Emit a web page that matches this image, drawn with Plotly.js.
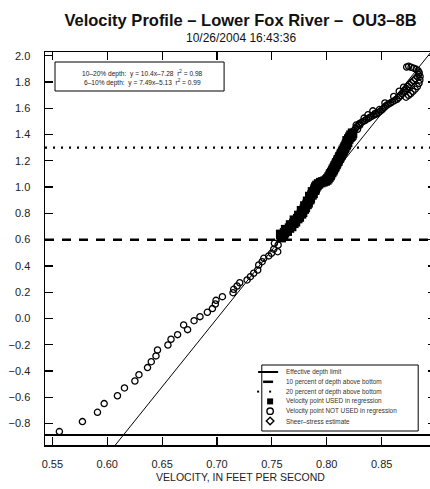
<!DOCTYPE html>
<html><head><meta charset="utf-8">
<script src="https://cdn.plot.ly/plotly-3.0.1.min.js"></script>
<style>html,body{margin:0;padding:0;overflow:hidden;background:#fff}#chart{width:440px;height:489px}</style>
</head><body><div id="chart"></div>
<script>
// ---- data ----
const usedX = [0.7585,0.7605,0.7580,0.7615,0.7640,0.7625,0.7660,0.7680,0.7670,0.7700,0.7715,0.7705,0.7735,0.7750,0.7745,0.7770,0.7780,0.7770,0.7795,0.7805,0.7800,0.7820,0.7830,0.7825,0.7845,0.7850,0.7845,0.7865,0.7875,0.7870,0.7890,0.7895,0.7900,0.7910,0.7925,0.7945,0.7965,0.7985,0.8000,0.8010,0.8020,0.8030,0.8035,0.8045,0.8055,0.8060,0.8070,0.8075,0.8085,0.8090,0.8100,0.8105,0.8115,0.8120,0.8130,0.8135,0.8145,0.8150,0.8160,0.8165,0.8175,0.8180,0.8190,0.8185,0.8200,0.8210,0.8220,0.8235];
const usedY = [0.615,0.628,0.640,0.652,0.664,0.676,0.688,0.700,0.712,0.724,0.736,0.748,0.760,0.772,0.784,0.796,0.808,0.820,0.832,0.844,0.856,0.868,0.880,0.892,0.904,0.916,0.928,0.940,0.952,0.964,0.976,0.988,1.000,1.012,1.024,1.034,1.040,1.046,1.054,1.064,1.076,1.088,1.100,1.112,1.124,1.136,1.148,1.160,1.172,1.184,1.196,1.208,1.220,1.232,1.244,1.256,1.268,1.280,1.292,1.304,1.316,1.328,1.340,1.352,1.366,1.380,1.395,1.410];

const notUsedX = [0.5564,0.5774,0.5911,0.5972,0.6093,0.6157,0.6252,0.6289,0.6367,0.6401,0.6444,0.6458,0.6553,0.6581,0.6641,0.6696,0.6732,0.6791,0.6845,0.6912,0.6958,0.6985,0.6991,0.7049,0.7146,0.7152,0.7183,0.7207,0.7274,0.7304,0.7334,0.7371,0.7380,0.7411,0.7426,0.7471,0.7496,0.7517,0.7553,0.7557,0.7523,
  0.8195,0.8210,0.8205,0.8220,0.8235,0.8230,0.8250,0.8262,0.8275,0.8268,0.8295,0.8312,0.8328,0.8347,0.8362,0.8380,0.8396,0.8412,0.8430,0.8452,0.8470,0.8488,0.8505,0.8520,0.8535,0.8550,0.8566,0.8582,0.8600,0.8620,0.8640,0.8655,0.8670,0.8686,0.8700,0.8712,0.8726,0.8740,0.8752,0.8770,0.8790,0.8808,0.8825,0.8836,0.8842,0.8832,0.8815,0.8792,0.8768,0.8746,0.8728,0.8850,0.8848,0.8840,0.8825,0.8805,0.8785,0.8765,0.8745,0.8722,0.8440,0.8280,0.8240,
  0.8300,0.8340,0.8375,0.8420,0.8480,0.8530,0.8610,0.8660,0.8700];
const notUsedY = [-0.861,-0.785,-0.714,-0.648,-0.588,-0.529,-0.476,-0.428,-0.374,-0.329,-0.285,-0.240,-0.202,-0.158,-0.123,-0.049,-0.085,-0.017,0.014,0.047,0.075,0.110,0.138,0.166,0.196,0.222,0.247,0.272,0.293,0.318,0.344,0.369,0.407,0.432,0.458,0.476,0.496,0.527,0.508,0.559,0.572,
  1.335,1.352,1.372,1.388,1.402,1.420,1.432,1.447,1.460,1.472,1.481,1.490,1.498,1.506,1.515,1.523,1.532,1.540,1.548,1.556,1.566,1.578,1.590,1.603,1.615,1.625,1.633,1.641,1.650,1.660,1.668,1.681,1.695,1.709,1.722,1.736,1.750,1.765,1.780,1.795,1.810,1.825,1.840,1.856,1.871,1.886,1.896,1.905,1.912,1.919,1.914,1.842,1.815,1.790,1.765,1.745,1.728,1.712,1.698,1.684,1.560,1.440,1.375,
  1.470,1.525,1.550,1.580,1.590,1.640,1.690,1.730,1.760];

// regression lines
const fitSlope = [10.4, 7.49];
const fitIntercept = [-7.28, -5.13];
const fitLabels = ["10\u201320% depth:  y = 10.4x\u20137.28  r<sup>2</sup> = 0.98",
                   "6\u201310% depth:  y = 7.49x\u20135.13  r<sup>2</sup> = 0.99"];
const fit2X = [0.8260, 0.8713];
const fit2Y = [1.42, 1.76];

// horizontal reference levels
const levelNames = ["Effective depth limit", "10 percent of depth above bottom", "20 percent of depth above bottom"];
const levelY = [-0.887, 0.6, 1.3];

const pointNames = ["Velocity point USED in regression", "Velocity point NOT USED in regression", "Sheer\u2013stress estimate"];

const xTickVals = [0.55, 0.60, 0.65, 0.70, 0.75, 0.80, 0.85];
const xRange = [0.5433, 0.8995];
const yRange = [-0.963, 2.028];

// ---- layout geometry helpers (plot area in pixels) ----
const W = 440, H = 489, L = 45, R = W - 435.8, T = 52, B = H - 445;
const PW = W - L - R, PH = H - T - B;
const PX = p => (p - L) / PW;
const PY = p => (H - B - p) / PH;

const font = "Liberation Sans, Arial, Helvetica, sans-serif";

const fitLineY = [yRange[0], yRange[1]];
const fitLineX = fitLineY.map(v => (v - fitIntercept[0]) / fitSlope[0]);

const traces = [
  {x: fitLineX, y: fitLineY, mode: 'lines', line: {color: '#000', width: 1}, hoverinfo: 'skip', showlegend: false},
  {x: fit2X, y: fit2Y, mode: 'lines', line: {color: '#000', width: 1}, hoverinfo: 'skip', showlegend: false},
  {x: usedX, y: usedY, mode: 'markers', name: pointNames[0],
   marker: {symbol: 'square', size: 9.5, color: '#000', line: {width: 0}}, showlegend: false},
  {x: notUsedX, y: notUsedY, mode: 'markers', name: pointNames[1],
   marker: {symbol: 'circle-open', size: 6.2, color: '#000', line: {width: 1.3}}, showlegend: false}
];

const shapes = [];
const levelStyles = [{width: 2, dash: 'solid'}, {width: 2.5, dash: '9px,8px'}, {width: 2.2, dash: '2px,6px'}];
levelY.forEach((v, i) => {
  shapes.push({type: 'line', xref: 'paper', yref: 'y', x0: 0, x1: 1, y0: v, y1: v,
               line: {color: '#000', width: levelStyles[i].width, dash: levelStyles[i].dash}});
});

// equation box
shapes.push({type: 'rect', xref: 'paper', yref: 'paper', x0: PX(55), x1: PX(224), y0: PY(91), y1: PY(62),
             line: {color: '#000', width: 1}, fillcolor: '#fff', layer: 'below'});

// legend box
shapes.push({type: 'rect', xref: 'paper', yref: 'paper', x0: PX(261.7), x1: PX(418), y0: PY(431), y1: PY(365),
             line: {color: '#000', width: 1}, fillcolor: '#fff'});
const rowY = [372, 381.8, 391.6, 401.4, 411.2, 421];
// legend symbols
shapes.push({type: 'line', xref: 'paper', yref: 'paper', x0: PX(258), x1: PX(278), y0: PY(rowY[0]), y1: PY(rowY[0]), line: {color: '#000', width: 2}});
shapes.push({type: 'line', xref: 'paper', yref: 'paper', x0: PX(263), x1: PX(273), y0: PY(rowY[1]), y1: PY(rowY[1]), line: {color: '#000', width: 2.5}});
[258, 270].forEach(px => shapes.push({type: 'rect', xref: 'paper', yref: 'paper', x0: PX(px - 1), x1: PX(px + 1), y0: PY(rowY[2] + 1), y1: PY(rowY[2] - 1), line: {width: 0}, fillcolor: '#000'}));
shapes.push({type: 'rect', xref: 'paper', yref: 'paper', x0: PX(267), x1: PX(273), y0: PY(rowY[3] + 3), y1: PY(rowY[3] - 3), line: {width: 0}, fillcolor: '#000'});
shapes.push({type: 'circle', xref: 'paper', yref: 'paper', x0: PX(266.8), x1: PX(273.2), y0: PY(rowY[4] + 3.2), y1: PY(rowY[4] - 3.2), line: {color: '#000', width: 1.4}});
shapes.push({type: 'path', xref: 'paper', yref: 'paper',
  path: `M ${PX(270)} ${PY(rowY[5] - 3.8)} L ${PX(273.8)} ${PY(rowY[5])} L ${PX(270)} ${PY(rowY[5] + 3.8)} L ${PX(266.2)} ${PY(rowY[5])} Z`,
  line: {color: '#000', width: 1.4}});

const annotations = [];
// subtitle
annotations.push({text: '10/26/2004 16:43:36', xref: 'paper', yref: 'paper', x: 0.5, y: PY(37.5),
  xanchor: 'center', yanchor: 'middle', showarrow: false, font: {family: font, size: 12, color: '#111'}});
// equations
fitLabels.forEach((t, i) => annotations.push({text: t, xref: 'paper', yref: 'paper', x: PX(142), y: PY(i === 0 ? 73.5 : 82.5),
  xanchor: 'center', yanchor: 'middle', showarrow: false, font: {family: font, size: 6.6, color: '#222'}}));
// legend texts
const legendTexts = levelNames.concat(pointNames);
legendTexts.forEach((t, i) => annotations.push({text: t, xref: 'paper', yref: 'paper', x: PX(284), y: PY(rowY[i]),
  xanchor: 'left', yanchor: 'middle', showarrow: false, font: {family: font, size: 6.4, color: '#333'}}));

const layout = {
  width: W, height: H,
  margin: {l: L, r: R, t: T, b: B, pad: 0},
  paper_bgcolor: '#fff', plot_bgcolor: '#fff',
  font: {family: font, size: 11, color: '#222'},
  title: {text: '<b>Velocity Profile \u2013 Lower Fox River \u2013  OU3\u20138B</b>', xref: 'paper', x: 0.5, xanchor: 'center',
          yref: 'container', y: 1 - 20.5 / H, yanchor: 'middle', font: {family: font, size: 16.5, color: '#111'}},
  xaxis: {range: xRange, tickvals: xTickVals, tickformat: '.2f', ticks: 'inside', ticklen: 8, tickwidth: 1.2, tickcolor: '#000',
          showline: true, linecolor: '#000', linewidth: 1.5, mirror: 'ticks', showgrid: false, zeroline: false,
          ticklabelstandoff: 8, tickfont: {size: 11, color: '#222'},
          title: {text: 'VELOCITY, IN FEET PER SECOND', font: {size: 10.5, color: '#222'}, standoff: 5}},
  yaxis: {range: yRange, dtick: 0.2, tick0: 0, tickformat: '.1f', ticks: 'inside', ticklen: 8, tickwidth: 1.2, tickcolor: '#000',
          showline: true, linecolor: '#000', linewidth: 1.5, mirror: 'ticks', showgrid: false, zeroline: false,
          ticklabelstandoff: 11, tickfont: {size: 11, color: '#222'}},
  showlegend: false,
  shapes: shapes,
  annotations: annotations
};

Plotly.newPlot('chart', traces, layout, {displayModeBar: false, staticPlot: true});
</script>
</body></html>
